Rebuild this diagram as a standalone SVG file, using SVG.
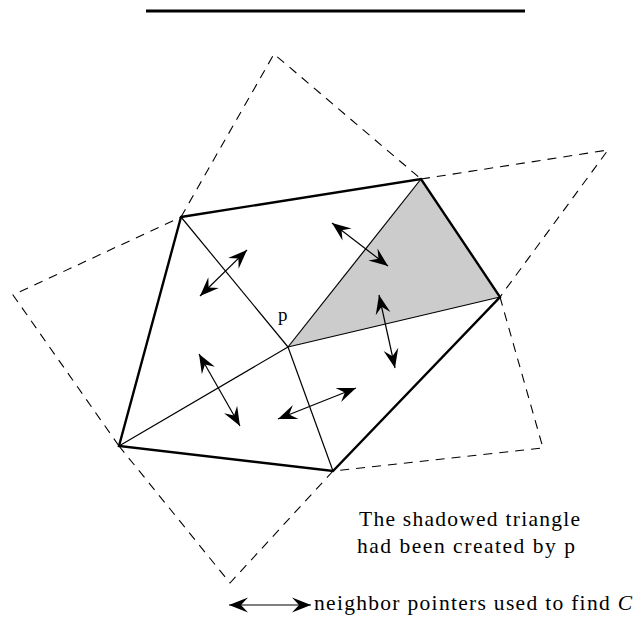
<svg xmlns="http://www.w3.org/2000/svg" width="637" height="617" viewBox="0 0 637 617">
<style>
.dash{fill:none;stroke:#000;stroke-width:1.1;stroke-dasharray:9 7}
.thick{fill:none;stroke:#000;stroke-width:2.4;stroke-linejoin:miter}
.thin{fill:none;stroke:#000;stroke-width:1.2}
.ptr{fill:none;stroke:#000;stroke-width:1.2;marker-start:url(#ah);marker-end:url(#ah)}
.lbl{font-family:"Liberation Serif","DejaVu Serif",serif;font-size:21.5px;fill:#000}
.pl{font-family:"Liberation Serif","DejaVu Serif",serif;font-size:19px;fill:#000}
</style>
<defs>
<marker id="ah" markerUnits="userSpaceOnUse" markerWidth="26" markerHeight="26" viewBox="-22 -11 26 22" refX="0" refY="0" orient="auto-start-reverse">
<path d="M0,0 L-19,-7.5 L-12,0 L-19,7.5 Z" fill="#000"/>
</marker>
</defs>
<line x1="146" y1="11" x2="525" y2="11" stroke="#000" stroke-width="3"/>
<g id="shaded">
<polygon points="288,347 421,179 500,297" fill="#cccccc" stroke="none"/>
</g>
<g id="outer-dashed">
<polyline class="dash" points="181,217 274,54 421,179"/>
<polyline class="dash" points="421,179 608,150 500,297"/>
<polyline class="dash" points="500,297 543,448 333,471"/>
<polyline class="dash" points="333,471 230,583 119,446"/>
<polyline class="dash" points="119,446 13,295 181,217"/>
</g>
<g id="hull">
<polygon class="thick" points="181,217 421,179 500,297 333,471 119,446"/>
</g>
<g id="interior">
<line class="thin" x1="181" y1="217" x2="288" y2="347"/>
<line class="thin" x1="288" y1="347" x2="333" y2="471"/>
<line class="thin" x1="119" y1="446" x2="288" y2="347"/>
<line class="thin" x1="288" y1="347" x2="421" y2="179"/>
<line class="thin" x1="288" y1="347" x2="500" y2="297"/>
</g>
<g id="pointers">
<line class="ptr" x1="200" y1="296" x2="247" y2="250"/>
<line class="ptr" x1="332" y1="223" x2="388" y2="266"/>
<line class="ptr" x1="379" y1="295" x2="395" y2="368"/>
<line class="ptr" x1="199" y1="354" x2="240" y2="426"/>
<line class="ptr" x1="278" y1="419" x2="356" y2="388"/>
<line class="ptr" x1="229" y1="605" x2="311" y2="605"/>
</g>
<g id="labels">
<text class="pl" x="278" y="321">p</text>
<text class="lbl" x="359" y="526" textLength="221" lengthAdjust="spacing">The shadowed triangle</text>
<text class="lbl" x="357" y="553" textLength="218" lengthAdjust="spacing">had been created by p</text>
<text class="lbl" x="314" y="610" textLength="318" lengthAdjust="spacing">neighbor pointers used to find <tspan font-style="italic">C</tspan></text>
</g>
</svg>
